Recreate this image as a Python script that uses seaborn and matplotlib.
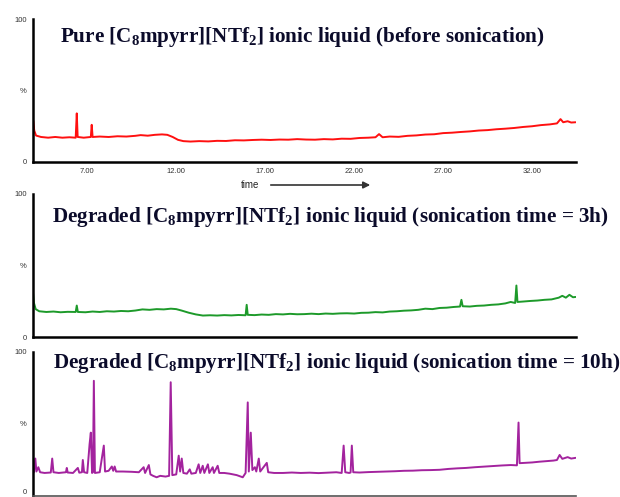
import numpy as np
import pandas as pd
import matplotlib
matplotlib.use('Agg')
import matplotlib.pyplot as plt
import seaborn as sns
from matplotlib.ticker import MultipleLocator

sns.set_style("white")
plt.rcParams['font.family'] = ['Liberation Sans', 'DejaVu Sans']
plt.rcParams['mathtext.fontset'] = 'custom'
plt.rcParams['mathtext.rm'] = 'Liberation Serif:bold'
plt.rcParams['mathtext.it'] = 'Liberation Serif:bold'
plt.rcParams['mathtext.bf'] = 'Liberation Serif:bold'

# 数据: 保留时间 (min) 与相对强度 (%)
pure_time = [3.95, 3.96, 4.02, 4.12, 4.4, 4.8, 5.2, 5.6, 6.0, 6.35, 6.41, 6.46, 6.8, 7.2, 7.25, 7.3,
             7.7, 8.2, 8.7, 9.2, 9.7, 10.0, 10.4, 10.8, 11.2, 11.5, 11.8, 12.1, 12.4, 12.8, 13.3,
             13.8, 14.3, 14.8, 15.3, 15.8, 16.3, 16.8, 17.3, 17.8, 18.3, 18.8, 19.3, 19.8, 20.3,
             20.8, 21.3, 21.8, 22.3, 22.8, 23.2, 23.4, 23.6, 24.0, 24.5, 25.0, 25.5, 26.0, 26.5,
             27.0, 27.5, 28.0, 28.5, 29.0, 29.5, 30.0, 30.5, 31.0, 31.5, 32.0, 32.5, 33.0, 33.4,
             33.6, 33.75, 34.0, 34.2, 34.45]
pure_int = [0, 29, 22, 18.5, 17.5, 17, 17.5, 17, 17.3, 17, 34, 17.5, 17, 17.5, 26, 17.5,
            17.8, 17.5, 18, 17.8, 18.3, 18.8, 18.4, 19, 19.3, 19, 17.5, 15.5, 14.6, 14.3, 14.6,
            14.4, 14.8, 14.7, 15.2, 15.1, 15.4, 15.6, 15.4, 15.7, 15.6, 16, 15.7, 15.6, 16,
            15.8, 16.3, 16.2, 16.8, 17, 17.3, 19.5, 17.3, 17.8, 17.6, 18.3, 18.6, 19.2, 19.4,
            20.2, 20.5, 21, 21.4, 22, 22.3, 22.9, 23.3, 23.8, 24.5, 25, 25.8, 26.3, 27,
            30, 27.8, 28.5, 27.6, 27.8]

deg3_time = [3.95, 4.0, 4.1, 4.3, 4.7, 5.1, 5.5, 5.9, 6.35, 6.41, 6.47, 6.9, 7.3, 7.7, 8.1, 8.5,
             8.9, 9.3, 9.7, 10.1, 10.5, 10.9, 11.3, 11.7, 12.0, 12.3, 12.7, 13.1, 13.5, 13.9,
             14.3, 14.7, 15.1, 15.5, 15.9, 15.96, 16.02, 16.4, 16.8, 17.2, 17.6, 18.0, 18.4,
             18.8, 19.2, 19.6, 20.0, 20.4, 20.8, 21.2, 21.6, 22.0, 22.4, 22.8, 23.2, 23.6, 24.0,
             24.4, 24.8, 25.2, 25.6, 26.0, 26.4, 26.8, 27.2, 27.6, 27.95, 28.03, 28.1, 28.5,
             28.9, 29.3, 29.7, 30.1, 30.5, 30.8, 31.05, 31.12, 31.18, 31.5, 31.9, 32.3, 32.7,
             33.1, 33.5, 33.7, 33.9, 34.1, 34.3, 34.45]
deg3_int = [31, 24, 19.5, 18, 17.5, 17.8, 17.3, 17.6, 17.5, 22, 17.5, 17.3, 17.8, 17.5, 18, 17.8,
            18.2, 18, 18.5, 19.3, 19, 19.5, 19.3, 19.8, 19.5, 18.5, 17, 15.8, 15, 15.2,
            15, 15.3, 15.1, 15.4, 15.2, 22.5, 15.5, 15.3, 15.7, 15.5, 16, 15.8, 16.2,
            15.9, 16, 16.3, 16, 16.4, 16.2, 16.5, 16.6, 16.4, 16.9, 17, 17.4, 17.2, 17.8,
            18, 18.4, 18.6, 19, 19.8, 19.5, 20.3, 20.5, 21, 21.3, 26, 21.5, 21.3,
            21.8, 22, 22.5, 22.8, 23.5, 24.5, 23.8, 36, 24.5, 24.8, 25.2, 25.5, 26,
            26.3, 27.5, 28.8, 27.5, 29.5, 27.8, 28]

deg10_time = [3.95, 4.0, 4.08, 4.14, 4.25, 4.35, 4.6, 4.95, 5.03, 5.1, 5.4, 5.8, 5.85, 5.9, 6.2,
              6.47, 6.55, 6.7, 6.75, 6.82, 7.0, 7.13, 7.2, 7.27, 7.32, 7.37, 7.43, 7.7, 7.93,
              8.0, 8.2, 8.38, 8.46, 8.54, 8.62, 9.0, 9.5, 9.9, 10.17, 10.25, 10.46, 10.55, 10.7,
              10.9, 11.1, 11.4, 11.6, 11.69, 11.78, 12.0, 12.14, 12.22, 12.31, 12.4, 12.6,
              12.76, 12.85, 13.1, 13.26, 13.35, 13.49, 13.58, 13.78, 13.86, 14.05, 14.12, 14.33,
              14.42, 14.7, 15.0, 15.4, 15.74, 15.9, 16.02, 16.08, 16.19, 16.28, 16.42, 16.5,
              16.64, 16.72, 17.09, 17.17, 17.5, 18.0, 18.5, 19.0, 19.5, 20.0, 20.5, 21.0, 21.3,
              21.41, 21.5, 21.72, 21.8, 21.87, 21.95, 22.3, 22.8, 23.3, 23.8, 24.3, 24.8, 25.3,
              25.8, 26.3, 26.8, 27.3, 27.8, 28.3, 28.8, 29.3, 29.8, 30.3, 30.8, 31.15, 31.24,
              31.3, 31.6, 32.0, 32.4, 32.8, 33.2, 33.4, 33.55, 33.7, 34.0, 34.2, 34.45]
deg10_int = [20, 16.5, 26, 17, 20, 16.5, 16, 16.3, 26, 16.5, 16, 16.5, 19.5, 16.3, 16,
             19.5, 16.2, 16.5, 25, 16.5, 16, 36, 44, 16, 16.5, 80, 16, 16.5, 35,
             17, 17.5, 20.5, 17.5, 20.5, 17, 17, 16.8, 16.5, 20, 16, 21.5, 15, 14,
             13, 14, 13.5, 14, 79, 14.5, 15, 28, 17, 26, 16, 15.5,
             18.5, 15.5, 16, 22, 16, 21, 16, 22, 16, 20, 16, 21,
             16, 16, 15.5, 14.5, 13, 16, 65, 17, 44, 18, 20, 17,
             26, 17, 23, 16.5, 16, 16, 16.3, 16, 16.2, 15.9, 16.2, 16.5, 16,
             35, 16.5, 16, 16.3, 35, 16.5, 16.3, 16.6, 16.8, 17, 17.2, 17.5, 17.6,
             17.9, 18, 18.2, 18.8, 19.2, 19.5, 20, 20.4, 20.8, 21.2, 21.5, 21.3, 51,
             22.8, 23, 23.3, 23.8, 24.2, 24.6, 25, 28.5, 25.8, 27, 26, 26.5]

traces = [
    (pure_time, pure_int, '#ff1010',
     r'Pure [C$_8$mpyrr][NTf$_2$] ionic liquid (before sonication)'),
    (deg3_time, deg3_int, '#1d9a2a',
     r'Degraded [C$_8$mpyrr][NTf$_2$] ionic liquid (sonication time = 3h)'),
    (deg10_time, deg10_int, '#a3239e',
     r'Degraded [C$_8$mpyrr][NTf$_2$] ionic liquid (sonication time = 10h)'),
]
time_ticks = [7, 12, 17, 22, 27, 32]

W, H = 620, 497
fig = plt.figure(figsize=(W / 100, H / 100), dpi=100)

# 每个面板: (左, 0%像素, 100%像素) 以及标题位置 (像素)
panels = [(33, 162, 19), (33, 337, 194), (33, 496, 352)]
title_pos = [(60, 37), (52, 217), (53, 363)]

for i, ((t, v, color, title), (left, y0, y100), (tx, ty)) in enumerate(zip(traces, panels, title_pos)):
    ax = fig.add_axes([left / W, 1 - y0 / H, (576 - left) / W, (y0 - y100) / H])
    df = pd.DataFrame({'time': t, 'intensity': v})
    sns.lineplot(data=df, x='time', y='intensity', ax=ax, color=color,
                 linewidth=1.4, estimator=None, sort=False)
    ax.set_xlim(3.95, 34.47)
    ax.set_ylim(0, 100)
    ax.set_xlabel('')
    ax.set_ylabel('')
    ax.patch.set_alpha(0)
    for s in ['top', 'right']:
        ax.spines[s].set_visible(False)
    ax.spines['left'].set_linewidth(1.8)
    ax.spines['bottom'].set_linewidth(1.8 if i < 2 else 1.2)
    ax.spines['left'].set_color('black')
    ax.spines['bottom'].set_color('black' if i < 2 else '#555555')

    ax.set_yticks([0, 50, 100])
    ax.set_yticklabels(['0', '%', '100'])
    ax.yaxis.set_minor_locator(MultipleLocator(10))
    ax.set_xticks(time_ticks)
    ax.xaxis.set_minor_locator(MultipleLocator(0.5))
    if i == 0:
        ax.set_xticklabels([f'{x:.2f}' for x in time_ticks])
    else:
        ax.set_xticklabels([])
    ax.tick_params(axis='both', which='major', direction='out', length=3, width=0.8,
                   labelsize=5.5, colors='#333333', pad=1.5)
    ax.tick_params(axis='both', which='minor', direction='out', length=2, width=0.6,
                   colors='#333333')
    if i == 2:
        # 底部的 "0" 贴近图片边缘
        ax.get_yticklabels()[0].set_verticalalignment('bottom')

    fig.text(tx / W, 1 - ty / H, title, ha='left', va='center', fontsize=15.2,
             family='Liberation Serif', fontweight='bold', color='#0b0b2a')

# 时间箭头
fig.text(250 / W, 1 - 185 / H, 'time', ha='center', va='center', fontsize=7, color='#222222')
fig.add_artist(matplotlib.patches.FancyArrowPatch(
    (268 / W, 1 - 185 / H), (373 / W, 1 - 185 / H), transform=fig.transFigure,
    arrowstyle='-|>', mutation_scale=10, color='#333333', linewidth=1.2))

plt.savefig('out.png', dpi=100)
plt.close()
